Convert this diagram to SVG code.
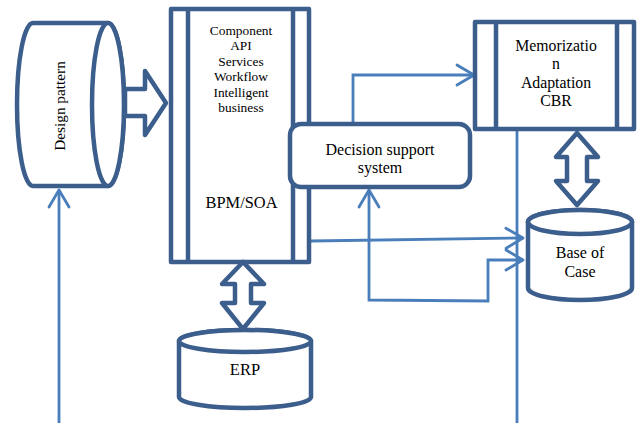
<svg xmlns="http://www.w3.org/2000/svg" width="644" height="423" viewBox="0 0 644 423">
<defs>
<marker id="ah" markerUnits="userSpaceOnUse" viewBox="-20 -12 22 24" markerWidth="22" markerHeight="24" refX="0" refY="0" orient="auto" overflow="visible">
<path d="M-17,-10 L0,0 L-17,10" fill="none" stroke="#4a7ebb" stroke-width="2.8" stroke-linecap="round" stroke-linejoin="round"/>
</marker>
<marker id="ahs" markerUnits="userSpaceOnUse" viewBox="-20 -12 22 24" markerWidth="22" markerHeight="24" refX="0" refY="0" orient="auto-start-reverse" overflow="visible">
<path d="M-17,-10 L0,0 L-17,10" fill="none" stroke="#4a7ebb" stroke-width="2.8" stroke-linecap="round" stroke-linejoin="round"/>
</marker>
</defs>
<style>
.sh{fill:#ffffff;stroke:#3b5e8c;stroke-width:4.5;stroke-linejoin:round}
.ln{fill:none;stroke:#3b5e8c;stroke-width:4.5}
.cn{fill:none;stroke:#4a7ebb;stroke-width:2.8}
.t{font-family:'Liberation Serif','DejaVu Serif',serif;fill:#000;text-anchor:middle}
</style>
<rect width="644" height="423" fill="#ffffff"/>
<g id="connectors">
<path class="cn" d="M517,129 L517,423"/>
<path class="cn" d="M59,423 L59,190" marker-end="url(#ah)"/>
<path class="cn" d="M353,124 L353,75 L474,75" marker-end="url(#ah)"/>
<path class="cn" d="M311,241 L523,238" marker-end="url(#ah)"/>
<path class="cn" d="M523,260 L488,260 L488,301 L369,300 L369,190" marker-start="url(#ahs)" marker-end="url(#ah)"/>
</g>
<g id="design-pattern">
<path class="sh" d="M33,23 L108,23 A16,81.5 0 0 1 108,186 L33,186 A16,81.5 0 0 1 33,23 Z"/>
<ellipse class="sh" cx="108" cy="104.5" rx="16" ry="81.5"/>
<text class="t" font-size="15.3" transform="translate(65,106) rotate(-90)">Design pattern</text>
</g>
<g id="arrow-dp-bpm">
<path class="sh" d="M125,89 L145,89 L145,71 L166,103 L145,135 L145,116 L125,116 Z"/>
</g>
<g id="bpm-soa">
<rect class="sh" x="171" y="9" width="138" height="253"/>
<path class="ln" d="M188,9 L188,262 M293,9 L293,262"/>
<text class="t" font-size="13.4"><tspan x="241" y="34.5">Component</tspan><tspan x="241" y="50">API</tspan><tspan x="241" y="65.5">Services</tspan><tspan x="241" y="81">Workflow</tspan><tspan x="241" y="96.5">Intelligent</tspan><tspan x="241" y="112">business</tspan></text>
<text class="t" font-size="16.4" x="241.5" y="207.5">BPM/SOA</text>
</g>
<g id="decision-support">
<rect class="sh" x="290" y="124" width="180" height="63" rx="11"/>
<text class="t" font-size="16"><tspan x="380" y="154.5">Decision support</tspan><tspan x="380" y="172.5">system</tspan></text>
</g>
<g id="memorization">
<rect class="sh" x="475" y="22" width="159" height="107"/>
<path class="ln" d="M496,22 L496,129 M617,22 L617,129"/>
<text class="t" font-size="15.8"><tspan x="556" y="50.5">Memorizatio</tspan><tspan x="556" y="69">n</tspan><tspan x="556" y="87.5">Adaptation</tspan><tspan x="556" y="106">CBR</tspan></text>
</g>
<g id="arrow-mem-case">
<path class="sh" d="M577,133 L598,157 L587,157 L587,181 L598,181 L577,205 L556,181 L567,181 L567,157 L556,157 Z"/>
</g>
<g id="base-of-case">
<path class="sh" d="M528,222 L528,288 A52,12 0 0 0 632,288 L632,222 A52,12 0 0 0 528,222 Z"/>
<ellipse class="sh" cx="580" cy="222" rx="52" ry="12"/>
<text class="t" font-size="16"><tspan x="580" y="257.5">Base of</tspan><tspan x="580" y="276.5">Case</tspan></text>
</g>
<g id="arrow-bpm-erp">
<path class="sh" d="M243,262 L264,284 L251,284 L251,303 L264,303 L243,329 L222,303 L235,303 L235,284 L222,284 Z"/>
</g>
<g id="erp">
<path class="sh" d="M179,341 L179,397 A66,11 0 0 0 311,397 L311,341 A66,11 0 0 0 179,341 Z"/>
<ellipse class="sh" cx="245" cy="341" rx="66" ry="11"/>
<text class="t" font-size="16.5" x="245" y="374.5">ERP</text>
</g>
</svg>
